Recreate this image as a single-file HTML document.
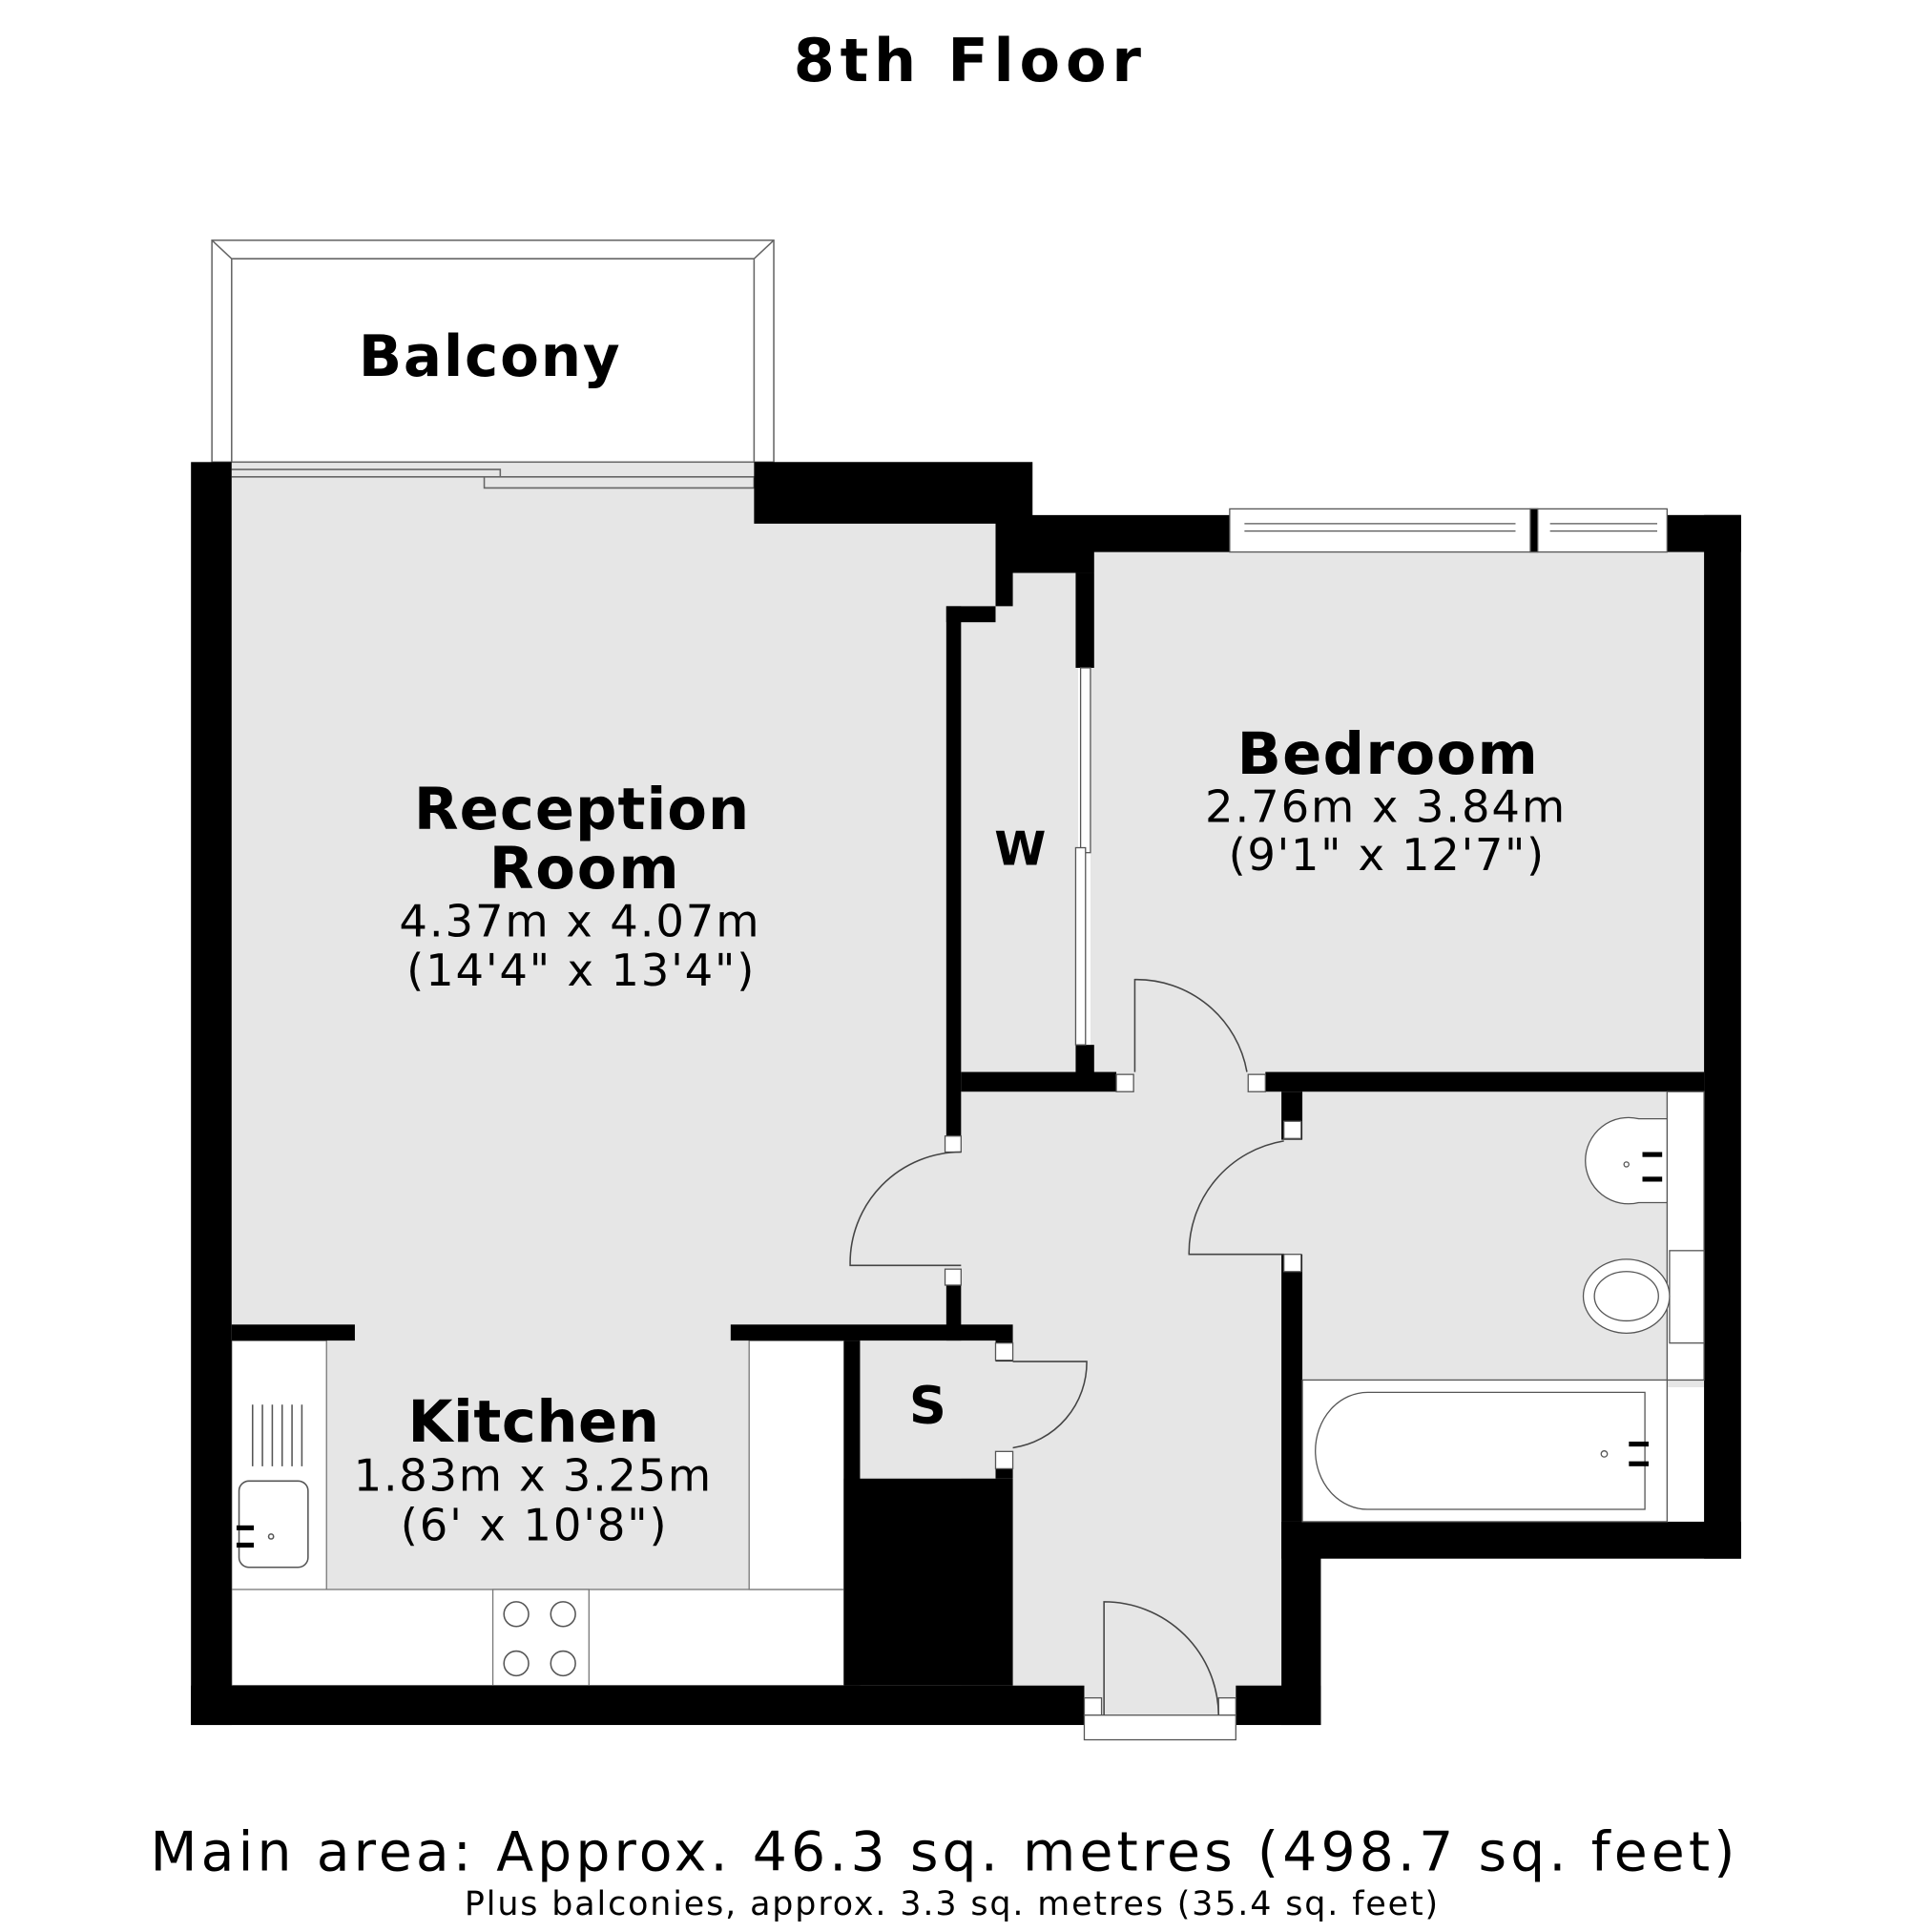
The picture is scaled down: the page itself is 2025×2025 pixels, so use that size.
<!DOCTYPE html>
<html><head><meta charset="utf-8"><style>html,body{margin:0;padding:0;background:#fff}svg{display:block}</style></head>
<body>
<svg width="2025" height="2025" viewBox="0 0 1568 1568" xmlns="http://www.w3.org/2000/svg" font-family="DejaVu Sans, Liberation Sans, sans-serif" shape-rendering="crispEdges">
<rect width="1568" height="1568" fill="#fff"/>
<!-- floors -->
<g fill="#e6e6e6">
<rect x="188" y="375" width="424" height="715"/>
<rect x="600" y="425" width="210" height="665"/>
<rect x="188" y="1088" width="420" height="205"/>
<rect x="780" y="465" width="95" height="410"/>
<rect x="885" y="448" width="498" height="425"/>
<rect x="780" y="870" width="264" height="500"/>
<rect x="698" y="1088" width="114" height="112"/>
<rect x="1040" y="886" width="343" height="240"/>
<rect x="880" y="1365" width="123" height="28"/>
</g>
<g shape-rendering="auto">
<!-- kitchen counters -->
<g fill="#fff" stroke="#777" stroke-width="1">
<rect x="188" y="1088" width="77" height="205"/>
<rect x="188" y="1290" width="497" height="78"/>
<rect x="608" y="1088" width="77" height="202"/>
<rect x="400" y="1290" width="78" height="78"/>
</g>
<g fill="none" stroke="#555" stroke-width="1.2">
<circle cx="419" cy="1310" r="10"/><circle cx="457" cy="1310" r="10"/>
<circle cx="419" cy="1350" r="10"/><circle cx="457" cy="1350" r="10"/>
<rect x="194" y="1202" width="56" height="70" rx="8"/>
<path d="M205 1140V1190M213 1140V1190M221 1140V1190M229 1140V1190M237 1140V1190M245 1140V1190"/>
<circle cx="220" cy="1247" r="2"/>
</g>
<rect x="192" y="1238" width="14" height="4" fill="#000"/><rect x="192" y="1252" width="14" height="4" fill="#000"/>
<!-- balcony -->
<g fill="none" stroke="#666" stroke-width="1.2">
<rect x="172" y="195" width="456" height="180"/>
<path d="M188 375V210H612V375M172 195L188 210M628 195L612 210"/>
<path d="M188 381H406V387H188M393 387H612V396H393Z"/>
</g>
<!-- walls -->
<g fill="#000">
<rect x="155" y="375" width="33" height="1025"/>
<rect x="155" y="1368" width="725" height="32"/>
<rect x="1003" y="1368" width="69" height="32"/>
<rect x="1040" y="1235" width="32" height="165"/>
<rect x="1040" y="1235" width="373" height="30"/>
<rect x="1383" y="418" width="30" height="847"/>
<rect x="1353" y="418" width="60" height="30"/>
<path d="M612 375H838V418H998V448H888V465H822V492H808V425H612Z"/>
<rect x="768" y="492" width="40" height="13"/>
<rect x="768" y="492" width="12" height="443"/>
<rect x="768" y="1030" width="12" height="58"/>
<rect x="873" y="465" width="15" height="77"/>
<rect x="873" y="848" width="15" height="25"/>
<rect x="780" y="870" width="126" height="16"/>
<rect x="1027" y="870" width="356" height="16"/>
<rect x="1040" y="886" width="17" height="39"/>
<rect x="1040" y="1018" width="17" height="217"/>
<rect x="188" y="1075" width="100" height="13"/>
<rect x="593" y="1075" width="229" height="13"/>
<rect x="685" y="1088" width="13" height="280"/>
<rect x="685" y="1200" width="137" height="168"/>
<rect x="808" y="1088" width="14" height="17"/>
<rect x="808" y="1178" width="14" height="22"/>
</g>
<!-- bedroom window -->
<g fill="#fff" stroke="#555" stroke-width="1">
<rect x="998" y="413" width="355" height="35"/>
<path d="M1010 425H1230M1010 431H1230M1258 425H1345M1258 431H1345"/>
<rect x="1242" y="413" width="6" height="35" fill="#000"/>
</g>
<!-- wardrobe sliding doors -->
<g fill="#fff" stroke="#555" stroke-width="1">
<rect x="877" y="542" width="8" height="150"/>
<rect x="873" y="688" width="8" height="160"/>
</g>
<!-- door jamb blocks -->
<g fill="#fff" stroke="#555" stroke-width="1">
<rect x="906" y="872" width="14" height="14"/><rect x="1013" y="872" width="14" height="14"/>
<rect x="1042" y="910" width="14" height="14"/><rect x="1042" y="1018" width="14" height="14"/>
<rect x="767" y="922" width="13" height="13"/><rect x="767" y="1030" width="13" height="13"/>
<rect x="808" y="1090" width="14" height="14"/><rect x="808" y="1178" width="14" height="14"/>
<rect x="880" y="1378" width="14" height="14"/><rect x="989" y="1378" width="14" height="14"/>
<rect x="880" y="1392" width="123" height="20"/>
</g>
<!-- doors -->
<g fill="none" stroke="#444" stroke-width="1.2">
<path d="M921 870V795A91 91 0 0 1 1012 870"/>
<path d="M780 1027H690A90 90 0 0 1 780 935"/>
<path d="M1042 1018H965A92 92 0 0 1 1042 926"/>
<path d="M822 1105H882A70 70 0 0 1 822 1175"/>
<path d="M896 1392V1300A93 93 0 0 1 989 1392"/>
</g>
<!-- bathroom -->
<g fill="#fff" stroke="#555" stroke-width="1">
<rect x="1353" y="886" width="30" height="234"/>
<path d="M1353 908H1330A35 35 0 1 0 1330 976H1353Z"/>
<rect x="1355" y="1015" width="28" height="75"/>
<ellipse cx="1320" cy="1052" rx="35" ry="30"/>
<ellipse cx="1320" cy="1052" rx="26" ry="20"/>
<rect x="1057" y="1120" width="296" height="115"/>
<path d="M1335 1130H1110A42 47 0 0 0 1110 1225H1335Z"/>
<circle cx="1320" cy="945" r="2"/><circle cx="1302" cy="1180" r="2.5"/>
</g>
<g fill="#000">
<rect x="1333" y="935" width="16" height="4"/><rect x="1333" y="955" width="16" height="4"/>
<rect x="1322" y="1170" width="16" height="4"/><rect x="1322" y="1186" width="16" height="4"/>
</g>
<!-- text -->
<g text-anchor="middle" fill="#000">
<text x="785" y="66" font-size="48" font-weight="bold" textLength="282">8th Floor</text>
<text x="397" y="305" font-size="46" font-weight="bold" textLength="212">Balcony</text>
<text x="472" y="673" font-size="47" font-weight="bold" textLength="272">Reception</text>
<text x="474" y="721" font-size="47" font-weight="bold" textLength="154">Room</text>
<text x="470" y="760" font-size="36" textLength="292">4.37m x 4.07m</text>
<text x="471" y="800" font-size="36" textLength="282">(14'4" x 13'4")</text>
<text x="1126" y="628" font-size="47" font-weight="bold" textLength="244">Bedroom</text>
<text x="1124" y="667" font-size="36" textLength="292">2.76m x 3.84m</text>
<text x="1125" y="706" font-size="36" textLength="256">(9'1" x 12'7")</text>
<text x="828" y="702" font-size="38" font-weight="bold">W</text>
<text x="753" y="1155" font-size="42" font-weight="bold">S</text>
<text x="433" y="1170" font-size="47" font-weight="bold" textLength="204">Kitchen</text>
<text x="432" y="1210" font-size="36" textLength="290">1.83m x 3.25m</text>
<text x="433" y="1250" font-size="36" textLength="216">(6' x 10'8")</text>
<text x="765" y="1518" font-size="44" textLength="1286">Main area: Approx. 46.3 sq. metres (498.7 sq. feet)</text>
<text x="772" y="1554" font-size="27" textLength="790">Plus balconies, approx. 3.3 sq. metres (35.4 sq. feet)</text>
</g>
</g>
</svg>
</body></html>
